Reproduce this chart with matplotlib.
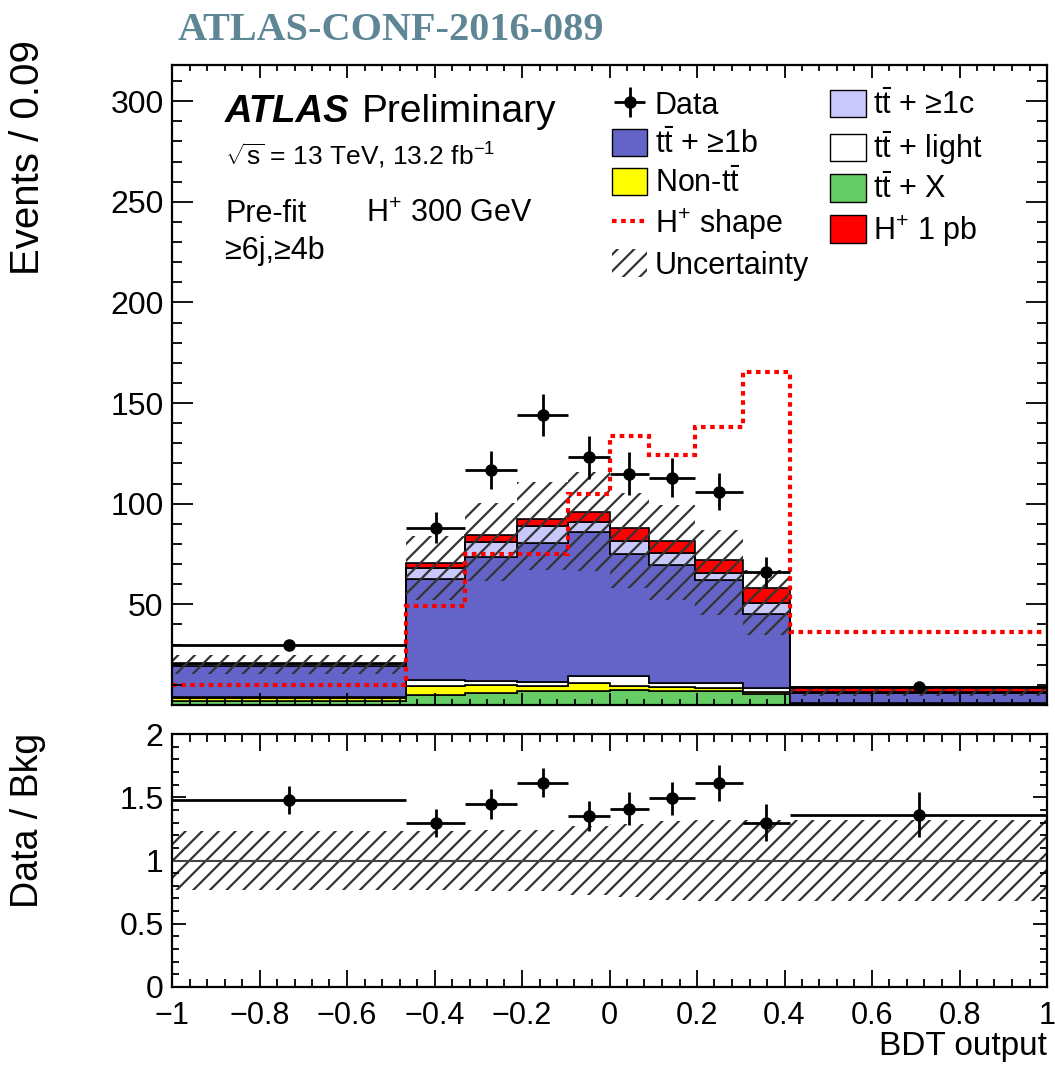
import numpy as np
import matplotlib
matplotlib.use("Agg")
import matplotlib.pyplot as plt
from matplotlib.patches import Patch
from matplotlib.lines import Line2D
from matplotlib.ticker import MultipleLocator, AutoMinorLocator, FixedLocator, FixedFormatter

plt.rcParams["font.family"] = ["Liberation Sans", "DejaVu Sans"]
plt.rcParams["mathtext.fontset"] = "custom"
plt.rcParams["mathtext.rm"] = "Liberation Sans"
plt.rcParams["mathtext.it"] = "Liberation Sans:italic"
plt.rcParams["mathtext.bf"] = "Liberation Sans:bold"
plt.rcParams["hatch.linewidth"] = 1.6

# BDT output binning (variable width), contents are events / 0.09
edges = [-1.0, -0.465, -0.33, -0.212, -0.094, 0.0, 0.091, 0.195, 0.304, 0.413, 1.0]
data = [30, 88, 117, 144, 123, 115, 113, 106, 66, 9]

# background stack, bottom to top
tt_x = [2.0, 5.0, 5.8, 7.0, 7.0, 7.5, 7.1, 7.0, 5.5, 0.3]
non_tt = [1.5, 4.4, 4.1, 2.4, 4.1, 1.9, 2.0, 1.3, 1.1, 0.3]
tt_light = [0.5, 3.0, 2.2, 2.2, 3.3, 5.0, 2.0, 2.5, 1.7, 0.3]
tt_b = [15.5, 50.0, 61.6, 69.1, 71.7, 60.6, 58.5, 51.3, 36.9, 5.2]
tt_c = [0.8, 5.5, 7.1, 8.4, 5.0, 6.7, 6.1, 3.7, 5.6, 0.5]
hplus_1pb = [0.4, 2.5, 3.7, 3.3, 5.0, 6.1, 5.8, 6.3, 7.5, 2.2]
hplus_shape = [10, 49.4, 75, 75, 104.9, 133.7, 124.3, 138, 165.4, 36.4]
# relative uncertainty on total background
unc_rel = [0.235, 0.235, 0.24, 0.245, 0.27, 0.29, 0.31, 0.32, 0.32, 0.32]

x_ticks = [-1, -0.8, -0.6, -0.4, -0.2, 0, 0.2, 0.4, 0.6, 0.8, 1]
x_labels = ["\u22121", "\u22120.8", "\u22120.6", "\u22120.4", "\u22120.2", "0",
            "0.2", "0.4", "0.6", "0.8", "1"]


def main():
    e = np.array(edges)
    centers = 0.5 * (e[1:] + e[:-1])
    half = 0.5 * (e[1:] - e[:-1])
    scale = (e[1:] - e[:-1]) / 0.09
    d = np.array(data, dtype=float)
    d_err = np.sqrt(d * scale) / scale

    comps = [
        (tt_x, "#66cc66"),
        (non_tt, "#ffff00"),
        (tt_light, "#ffffff"),
        (tt_b, "#6464c8"),
        (tt_c, "#c8c8fa"),
        (hplus_1pb, "#ff0000"),
    ]

    fig = plt.figure(figsize=(10.55, 10.8), dpi=100)
    ax = fig.add_axes([172 / 1055, 1 - 705 / 1080, 875 / 1055, 640 / 1080])
    rax = fig.add_axes([172 / 1055, 1 - 987 / 1080, 875 / 1055, 253 / 1080])

    bottom = np.zeros(len(d))
    for vals, col in comps:
        top = bottom + np.array(vals)
        ax.stairs(top, e, baseline=bottom.copy(), fill=True, facecolor=col,
                  edgecolor="black", linewidth=1.2)
        bottom = top
    bkg = np.array(tt_x) + np.array(non_tt) + np.array(tt_light) + np.array(tt_b) + np.array(tt_c)
    u = np.array(unc_rel)

    ax.stairs(bkg * (1 + u), e, baseline=bkg * (1 - u), fill=True, facecolor="none",
              edgecolor="#333333", hatch="//", linewidth=0)
    ax.stairs(hplus_shape, e, baseline=None, color="#ff0000", linewidth=3,
              linestyle=(0, (1.1, 1.1)))
    dat = ax.errorbar(centers, d, xerr=half, yerr=d_err, fmt="o", color="black",
                      markersize=8, elinewidth=2, capsize=0, zorder=10)

    ax.set_xlim(-1, 1)
    ax.set_ylim(0, 318)
    ax.yaxis.set_major_locator(FixedLocator([50, 100, 150, 200, 250, 300]))
    ax.yaxis.set_minor_locator(MultipleLocator(10))
    ax.xaxis.set_major_locator(MultipleLocator(0.2))
    ax.xaxis.set_minor_locator(AutoMinorLocator(5))
    ax.tick_params(axis="x", labelbottom=False)

    # ratio panel
    ratio = d / bkg
    rax.stairs(1 + u, e, baseline=1 - u, fill=True, facecolor="none",
               edgecolor="#333333", hatch="//", linewidth=0)
    rax.axhline(1, color="#444444", linewidth=1.5)
    rax.errorbar(centers, ratio, xerr=half, yerr=d_err / bkg, fmt="o", color="black",
                 markersize=8, elinewidth=2, capsize=0, zorder=10)
    rax.set_xlim(-1, 1)
    rax.set_ylim(0, 2)
    rax.yaxis.set_major_locator(FixedLocator([0, 0.5, 1, 1.5, 2]))
    rax.yaxis.set_major_formatter(FixedFormatter(["0", "0.5", "1", "1.5", "2"]))
    rax.yaxis.set_minor_locator(MultipleLocator(0.1))
    rax.xaxis.set_major_locator(FixedLocator(x_ticks))
    rax.xaxis.set_major_formatter(FixedFormatter(x_labels))
    rax.xaxis.set_minor_locator(AutoMinorLocator(5))

    for a in (ax, rax):
        for s in a.spines.values():
            s.set_linewidth(1.6)
        a.tick_params(which="both", direction="in", top=True, right=True,
                      labelsize=23, width=1.3)
        a.tick_params(axis="y", pad=6)
    rax.tick_params(axis="x", pad=10, labelsize=22)
    ax.tick_params(axis="y", which="major", length=15)
    ax.tick_params(axis="y", which="minor", length=7.5)
    ax.tick_params(axis="x", which="major", length=9)
    ax.tick_params(axis="x", which="minor", length=4.5)
    rax.tick_params(axis="y", which="major", length=10)
    rax.tick_params(axis="y", which="minor", length=5)
    rax.tick_params(axis="x", which="major", length=12)
    rax.tick_params(axis="x", which="minor", length=6)

    # axis titles
    fig.text(28 / 1055, 1 - 40 / 1080, "Events / 0.09", rotation=90, ha="center",
             va="top", fontsize=29)
    fig.text(28 / 1055, 1 - 733 / 1080, "Data / Bkg", rotation=90, ha="center",
             va="top", fontsize=27)
    fig.text(1047 / 1055, 1 - 1055 / 1080, "BDT output", ha="right", va="baseline",
             fontsize=24)

    fig.text(178 / 1055, 1 - 30 / 1080, "ATLAS-CONF-2016-089", ha="left", va="center",
             family="Liberation Serif", weight="bold", fontsize=29, color="#5e8694")

    # labels inside the plot
    fig.text(225 / 1055, 1 - 122 / 1080, "ATLAS", weight="bold", style="italic",
             fontsize=27.5, va="baseline")
    fig.text(362 / 1055, 1 - 122 / 1080, "Preliminary", fontsize=28, va="baseline")
    fig.text(225 / 1055, 1 - 165 / 1080, r"$\sqrt{\mathrm{s}}$ = 13 TeV, 13.2 fb$^{-1}$",
             fontsize=19, va="baseline")
    fig.text(225 / 1055, 1 - 222 / 1080, "Pre-fit", fontsize=22, va="baseline")
    fig.text(366 / 1055, 1 - 222 / 1080, "H$^{+}$ 300 GeV", fontsize=22, va="baseline")
    fig.text(225 / 1055, 1 - 259 / 1080, "\u22656j,\u22654b", fontsize=22, va="baseline")

    tt = r"$\mathrm{t\bar{t}}$"
    handles = [
        dat,
        Patch(facecolor="#6464c8", edgecolor="black", linewidth=1),
        Patch(facecolor="#ffff00", edgecolor="black", linewidth=1),
        Line2D([], [], color="#ff0000", linewidth=3, linestyle=(0, (1.1, 1.1))),
        Patch(facecolor="none", edgecolor="#333333", hatch="//", linewidth=0),
        Patch(facecolor="#c8c8fa", edgecolor="black", linewidth=1),
        Patch(facecolor="#ffffff", edgecolor="black", linewidth=1),
        Patch(facecolor="#66cc66", edgecolor="black", linewidth=1),
        Patch(facecolor="#ff0000", edgecolor="black", linewidth=1),
    ]
    labels = [
        "Data",
        tt + " + \u22651b",
        "Non-" + tt,
        "H$^{+}$ shape",
        "Uncertainty",
        tt + " + \u22651c",
        tt + " + light",
        tt + " + X",
        "H$^{+}$ 1 pb",
    ]
    ax.legend(handles, labels, ncol=2, loc="upper left",
              bbox_to_anchor=(612 / 1055, 1 - 90 / 1080), bbox_transform=fig.transFigure,
              frameon=False, fontsize=22, handlelength=1.15, handleheight=1.0,
              handletextpad=0.25, columnspacing=0.7, labelspacing=0.25,
              borderpad=0, borderaxespad=0)

    fig.savefig("out.png", dpi=100)


if __name__ == "__main__":
    main()
